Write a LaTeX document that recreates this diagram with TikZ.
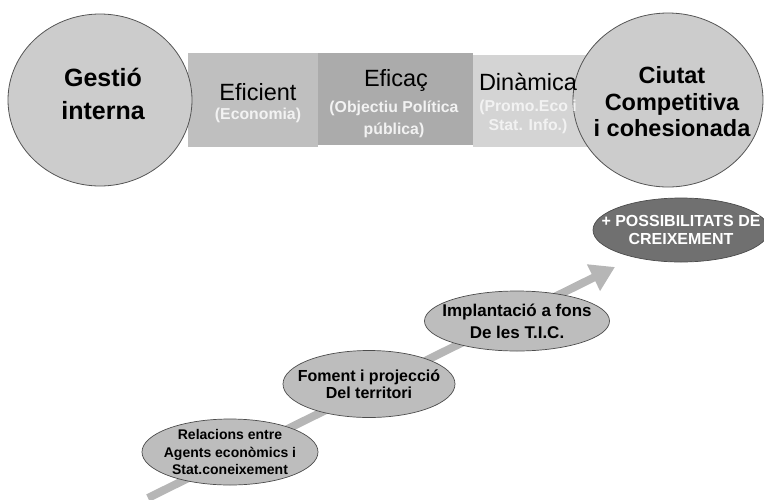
\documentclass[tikz,border=0pt]{standalone}
\usepackage{fontspec}
\setmainfont{Liberation Sans}
\usetikzlibrary{shapes.geometric,arrows.meta}
\definecolor{circfill}{HTML}{CCCCCC}
\definecolor{circline}{HTML}{555555}
\definecolor{boxA}{HTML}{BFBFBF}
\definecolor{boxB}{HTML}{ABABAB}
\definecolor{boxC}{HTML}{D4D4D4}
\definecolor{stepfill}{HTML}{BDBDBD}
\definecolor{goalfill}{HTML}{707070}
\definecolor{pathgray}{HTML}{B6B6B6}
\tikzset{
  bigcirc/.style={ellipse, draw=circline, line width=0.8pt, fill=circfill, inner sep=0pt},
  bandbox/.style={rectangle, draw=none, inner sep=0pt, anchor=north west},
  stepell/.style={ellipse, draw=black!70, line width=0.7pt, fill=stepfill, inner sep=0pt},
  title/.style={align=center, inner sep=0pt},
  quality/.style={align=center, inner sep=0pt, font=\fontsize{23.5}{26}\selectfont},
  sub/.style={align=center, inner sep=0pt, text=white!95!black},
}
\begin{document}
\begin{tikzpicture}[x=1pt,y=-1pt]
\useasboundingbox (0,0) rectangle (764,499);
% band of three qualities
\node[bandbox, fill=boxA, minimum width=130pt, minimum height=94pt] (b1) at (188,53) {};
\node[bandbox, fill=boxB, minimum width=155pt, minimum height=92pt] (b2) at (318,53) {};
\node[bandbox, fill=boxC, minimum width=130pt, minimum height=92pt] (b3) at (473,55) {};
% end circles
\node[bigcirc, minimum width=184pt, minimum height=172pt] (c1) at (100,100) {};
\node[bigcirc, minimum width=190pt, minimum height=174pt] (c2) at (668,100) {};
% texts
\node[title, font=\bfseries\fontsize{25}{33}\selectfont] (t1) at (103,94) {Gestió\\interna};
\node[title, font=\bfseries\fontsize{23.5}{26.5}\selectfont] (t2) at (672,102) {Ciutat\\Competitiva\\i cohesionada};
\node[quality] (e1) at (258,92) {Eficient};
\node[sub, font=\bfseries\fontsize{15.8}{20}\selectfont] (s1) at (258,115) {(Economia)};
\node[quality] (e2) at (396,80) {Eficaç};
\node[sub, font=\bfseries\fontsize{15.8}{22}\selectfont] (s2) at (394,119) {(Objectiu Política\\pública)};
\node[quality] (e3) at (528,82) {Dinàmica};
\node[sub, font=\bfseries\fontsize{15.8}{18.5}\selectfont] (s3) at (528,117) {(Promo.Eco i\\Stat. Info.)};
% rising path
\coordinate (pstart) at (148,498);
\coordinate (ptip) at (615,267);
\draw[pathgray, line width=8pt, -{Triangle[length=24pt,width=28pt]}] (pstart) -- (ptip);
% steps along the path: fixed-size ellipses with their labels on top
\node[stepell, minimum width=176pt, minimum height=66pt] (r1) at (230,452) {};
\node[title, font=\bfseries\fontsize{14}{17.5}\selectfont] (r1t) at (r1.center)
  {Relacions entre\\Agents econòmics i\\Stat.coneixement};
\node[stepell, minimum width=172pt, minimum height=67pt] (r2) at (369,384) {};
\node[title, font=\bfseries\fontsize{16}{17}\selectfont] (r2t) at (r2.center)
  {Foment i projecció\\Del territori};
\node[stepell, minimum width=185pt, minimum height=60pt] (r3) at (517,321) {};
\node[title, font=\bfseries\fontsize{17}{22}\selectfont] (r3t) at (r3.center)
  {Implantació a fons\\De les T.I.C.};
\node[stepell, fill=goalfill, minimum width=176pt, minimum height=64pt] (goal) at (681,230) {};
\node[title, text=white, font=\bfseries\fontsize{16}{17.5}\selectfont] (goalt) at (goal.center)
  {+ POSSIBILITATS DE\\CREIXEMENT};
\end{tikzpicture}
\end{document}
